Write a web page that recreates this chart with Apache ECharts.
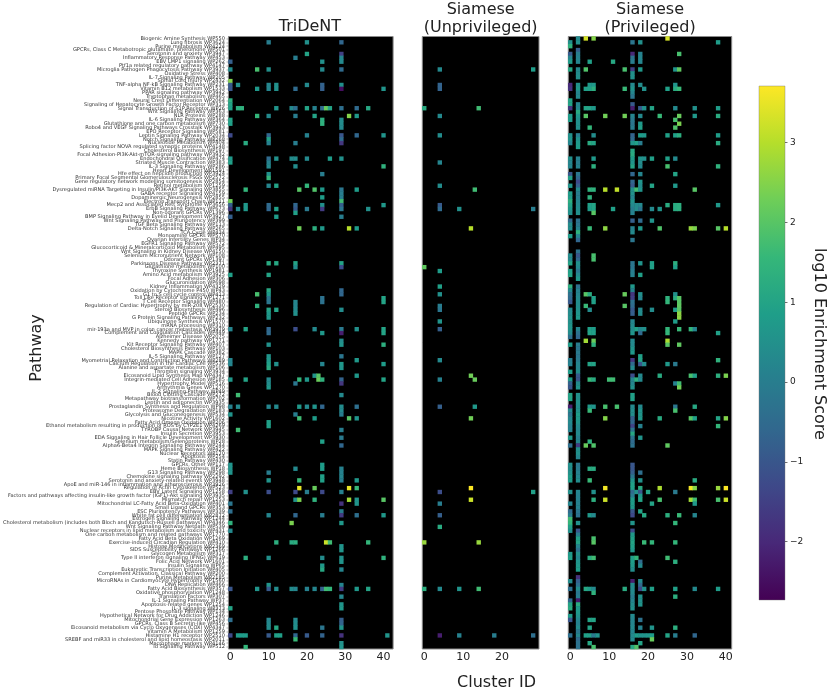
<!DOCTYPE html>
<html><head><meta charset="utf-8">
<style>html,body{margin:0;padding:0;background:#fff}#c{width:831px;height:696px}</style>
<script src="https://cdn.jsdelivr.net/npm/echarts@6/dist/echarts.min.js"></script>
</head><body><div id="c"></div>
<script>
const pathways = [
"Biogenic Amine Synthesis WP550","Lung fibrosis WP3624","Purine metabolism WP4224","GPCRs, Class C Metabotropic glutamate, pheromone WP501","Serotonin and anxiety WP3947","Inflammatory Response Pathway WP453","EBV LMP1 signaling WP262","Ptf1a related regulatory pathway WP4147","Microglia Pathogen Phagocytosis Pathway WP3937","Oxidative Stress WP408",
"IL-7 Signaling Pathway WP205","Spinal Cord Injury WP2432","TNF-alpha NF-kB Signaling Pathway WP231","Vitamin B12 metabolism WP1533","PPAR signaling pathway WP3942","Tryptophan metabolism WP465","Neural Crest Differentiation WP2064","Signaling of Hepatocyte Growth Factor Receptor WP313","Signal Transduction of S1P Receptor WP26","Wnt Signaling Pathway WP363",
"NLR Proteins WP288","IL-6 Signaling Pathway WP364","Glutathione and one carbon metabolism WP730","Robo4 and VEGF Signaling Pathways Crosstalk WP3943","EPO Receptor Signaling WP581","Leptin Signaling Pathway WP2034","Notch Signaling Pathway WP268","Nucleotide Metabolism WP404","Splicing factor NOVA regulated synaptic proteins WP4148","Cholesterol Biosynthesis WP197",
"Focal Adhesion-PI3K-Akt-mTOR-signaling pathway WP3932","Endochondral Ossification WP474","Striated Muscle Contraction WP383","IL-3 Signaling Pathway WP286","Heart Development WP1591","Hfe effect on hepcidin production WP3924","Primary Focal Segmental Glomerulosclerosis FSGS WP2572","Gene regulatory network modelling somitogenesis WP2854","Retinol metabolism WP1259","Dysregulated miRNA Targeting in Insulin/PI3K-AKT Signaling WP3855",
"GABA receptor Signaling WP4159","Dopaminergic Neurogenesis WP2855","Electron Transport Chain WP111","Mecp2 and Associated Rett Syndrome WP3656","ErbB Signaling Pathway WP673","Non-odorant GPCRs WP1396","BMP Signaling Pathway in Eyelid Development WP3927","Wnt Signaling Pathway and Pluripotency WP399","TGF Beta Signaling Pathway WP113","Delta-Notch Signaling Pathway WP265",
"TCA Cycle WP434","Monoamine GPCRs WP570","Ovarian Infertility Genes WP34","EGFR1 Signaling Pathway WP572","Glucocorticoid & Mineralcorticoid Metabolism WP495","Wnt Signaling in Kidney Disease WP4150","Selenium Micronutrient Network WP108","Odorant GPCRs WP1397","Parkinsons Disease Pathway WP2371","Glutathione metabolism WP100",
"Thyroxine Synthesis WP1981","Amino Acid metabolism WP3925","Focal Adhesion WP306","Glucuronidation WP698","Kidney Inflammation WP4329","Oxidation by Cytochrome P450 WP43","G1 to S cell cycle control WP413","Toll Like Receptor signaling WP1271","T Cell Receptor Signaling WP480","Regulation of Cardiac Hypertrophy by miR-208 WP2530",
"Steroid Biosynthesis WP496","Peptide GPCRs WP234","G Protein Signaling Pathways WP232","Ubiquinone Synthesis WP1570","mRNA processing WP310","mir-193a and MVP in colon cancer metastasis WP3979","Complement and Coagulation Cascades WP449","Alzheimer Disease WP2075","Kennedy pathway WP1771","Kit Receptor Signaling Pathway WP407",
"Cholesterol Biosynthesis Pathway WP103","MAPK Cascade WP382","IL-5 Signaling Pathway WP127","Myometrial Relaxation and Contraction Pathways WP289","Calcium Regulation in the Cardiac Cell WP536","Alanine and aspartate metabolism WP106","Thrombin signaling WP3934","Eicosanoid Lipid Synthesis Map WP4347","Integrin-mediated Cell Adhesion WP185","Hypertrophy Model WP516",
"Arrhythmia Genes WP1270","IL-2 Signaling Pathway WP49","Blood Clotting Cascade WP272","Metapathway biotransformation WP702","Leptin and adiponectin WP3935","Prostaglandin Synthesis and Regulation WP98","Proteasome Degradation WP183","Glycolysis and Gluconeogenesis WP534","Nicotine Activity WP1602","Fatty Acid Omega Oxidation WP206",
"Ethanol metabolism resulting in production of ROS by CYP2E1 WP4269","TYROBP Causal Network WP3945","Insulin Secretion WP3953","EDA Signaling in Hair Follicle Development WP3930","Selenium metabolism/Selenoproteins WP28","Alpha6-Beta4 Integrin Signaling Pathway WP244","MAPK Signaling Pathway WP422","Nuclear Receptors WP170","Apoptosis WP254","Statin Pathway WP430",
"GPCRs, Other WP117","Heme Biosynthesis WP18","G13 Signaling Pathway WP298","Chemokine signaling pathway WP2292","Serotonin and anxiety-related events WP3948","ApoE and miR-146 in inflammation and atherosclerosis WP3926","Regulation of Actin Cytoskeleton WP523","EBV Latent Signaling WP1258","Factors and pathways affecting insulin-like growth factor (IGF1)-Akt signaling WP3935","Mismatch repair WP1253",
"Mitochondrial LC-Fatty Acid Beta-Oxidation WP401","Small Ligand GPCRs WP353","ESC Pluripotency Pathways WP339","White fat cell differentiation WP2872","Estrogen Signaling Pathway WP1244","Cholesterol metabolism (includes both Bloch and Kandutsch-Russell pathways) WP4346","Wnt Signaling Pathway Netpath WP539","Nuclear receptors in lipid metabolism and toxicity WP431","One carbon metabolism and related pathways WP1770","Fatty Acid Beta Oxidation WP1269",
"Exercise-induced Circadian Regulation WP410","Histone Modifications WP2369","SIDS Susceptibility Pathways WP1266","Glycogen Metabolism WP317","Type II interferon signaling (IFNG) WP619","Folic Acid Network WP1601","Insulin Signaling WP65","Eukaryotic Transcription Initiation WP405","Complement Activation, Classical Pathway WP200","Purine Metabolism WP2185",
"MicroRNAs in Cardiomyocyte Hypertrophy WP1560","DNA Replication WP466","Fatty Acid Biosynthesis WP357","Oxidative phosphorylation WP1248","Translation Factors WP307","IL-1 Signaling Pathway WP37","Apoptosis-related genes WP1254","IL-3 signaling WP373","Pentose Phosphate Pathway WP134","Hypothetical Network for Drug Addiction WP1246",
"Mitochondrial Gene Expression WP1263","GPCRs, Class B Secretin-like WP456","Eicosanoid metabolism via Cyclo Oxygenases (COX) WP4347","Vitamin A Metabolism WP1259","Histamine H1 receptor WP2510","SREBF and miR33 in cholesterol and lipid homeostasis WP2011","Macrophage markers WP4146","Id Signaling Pathway WP512"
];
// Sparse readings: [row, col, value, col, value, ...]
const trident = [
[1,10,0,20,.5,29,-.6],[4,20,1,29,-1.5],[5,17,0,29,.2],[6,0,-.8,24,.5,29,.3],[8,0,.4,7,1.8,10,.5,24,.3,29,-.5],[11,0,2.5],
[12,0,-.9,2,.5,10,.2,12,.5,20,.3,24,-.7,29,.5],[13,0,-1,7,.7,10,.2,12,.5,17,-.5,24,-.8,29,-2.5,40,.6],[16,0,1.3],[17,0,1],
[18,0,.9,2,1.3,3,1.4,12,.6,16,.3,17,-.4,20,1,22,.1,24,-.5,25,2.2,26,1,29,-.4,33,-.5,36,1.1],[20,7,1.5,10,.3,17,0,22,1,31,2.5,33,.7],
[21,0,1,24,1.3,29,.4],[22,0,.9,24,1.4,29,.4],[23,29,.3],[25,0,-1.3,10,-.6,20,.1,29,-1,33,-.6,40,.6],[26,10,.9,29,-.5],[27,4,1.2,10,.1,17,0,29,-1.7],
[31,0,.7,10,-.5,12,.5,16,.4,17,.4,20,.3,26,.8,29,.5],[32,0,.9,10,.1],[33,10,.3,17,.4,40,1.4],[35,10,.5,24,0],[36,10,1.5],[38,10,.2,12,1,20,1.5],
[39,4,1.5,18,2,22,1.9,24,.7,29,-.2,33,.8],[40,29,0],[41,24,.8,29,0],[42,0,2.3,29,1.7],[43,0,-.8,4,.7,10,-.5,17,-.6,24,.5,29,-.8,40,.7],
[44,0,-1.7,2,.3,4,.7,10,-.6,12,.9,17,-.9,20,-.1,24,-1.6,29,-.2,36,.5],[45,17,.9],[46,0,-.8,12,.8,29,0],[49,18,2.3,22,1.3,24,.7,31,3,33,.8],
[58,10,1.2,12,1.1,17,1,29,1],[59,17,.4,29,-1.2],[61,0,.9,10,1],[65,10,1.1,29,-.6],[66,7,1.8,10,.7,29,-.6],[67,10,-.2,24,-.3,40,1],[68,10,-.2,17,.2,24,-.3,40,1],
[69,7,1.4,17,.2],[70,10,1,12,1,17,.3,29,.4],[71,10,.7,17,.5],[72,10,.7],[75,0,.2,4,1,10,-.6,17,-1.2,22,.3,29,-.1,33,.5,40,1],[76,10,-.5,24,.7,29,-2.2,40,1],
[78,29,.4],[79,10,.5,29,.6,40,1.3],[82,10,.6,29,-.2],[83,0,.2,10,.7,33,.7],[84,0,.2,10,.9,12,.5,24,.2,29,.7,40,.8],[85,10,1.2,29,.6],[87,22,.6,23,2,33,.7],
[88,0,.7,4,1,10,.3,18,1.5,20,.7,23,2.2,24,1.4,29,-.7,40,1],[89,10,.4,17,-.2,29,-1.7],[90,10,.7],[92,2,1.7,29,.3],
[95,0,.1,2,.3,10,.2,12,.3,18,.7,20,.3,22,.6,24,-.6,29,.4,33,-.4],[96,29,.3],[97,0,.6,17,0,29,0],[98,18,1.7,22,.8,31,2,33,.6],[99,10,.9],[100,10,.9],[101,2,1.7,29,0],
[103,29,-.1],[104,24,.9],[105,29,-.6],[110,0,.6,24,.8],[111,0,.6,17,.3,24,.8,29,.1],[112,0,.6,10,0,29,.1],[113,24,.9,29,.2],[114,10,.6,18,1.6,24,.9,29,0,33,.7],
[116,18,3.5,22,2.2,31,3.5,33,1.6],[117,0,-1.5,4,.5,10,-1.2,17,-1.3,20,0,24,-1.3,29,.1],[119,17,.6,18,2.4,22,1.4,31,2.8,33,.6,40,2],[120,0,-.2,29,-1.8,33,.6],
[122,0,-.4,29,0],[123,10,.2,17,-.6,24,0,29,-1.6,33,-.4,40,.7],[125,0,1.4,16,2.4,29,.7],[127,0,.3],[130,12,1.3,16,1.2,17,1.3,25,3.2,26,1.7,36,1.5],[131,29,.6],[132,29,.6],
[134,4,1.3,10,.5,24,.4,29,.5,40,1.4],[135,29,.6],[136,24,.7],[137,24,1.1,29,.2],[141,10,.6,29,.2],
[142,0,-1,7,.6,10,-.9,12,.4,16,.4,17,.2,20,.1,22,.2,24,-.8,25,1.7,26,1.5,29,-1.6,33,.7,36,1],[144,29,.2],[146,29,.6],[147,0,1,29,.7],
[150,0,-.4,10,.2,17,.3,29,-.8],[151,10,.3,17,.4,29,-.7],[152,10,.4,12,1.1,17,.5,24,-.2,29,.6],[154,0,-1.3,2,.8,3,.8,4,.8,10,-.9,12,.9,13,.9,17,-.6,20,-.9,24,-.7,29,-1.8,41,.6],
[155,17,1.6],[156,29,.5],[157,4,1.5,29,.6]
];
const unprivileged = [
[8,4,.3,28,.8],[12,4,-.7],[13,4,-.7],[18,0,1.2,14,1.7],[20,4,.3],[25,4,.4],[32,4,.2],[38,4,.4],[39,13,1.7],[43,4,-.9],[44,4,-.5,9,.5,28,0],[49,12,3],
[59,0,2.1],[60,4,.8],[64,4,.9],[66,4,.5],[69,4,0],[70,4,-.2],[73,4,.6],[75,4,-.8],[83,4,.3],[87,12,2.3],[88,4,.1,13,2.2],[95,4,-.8,13,.7],[98,12,2.3],
[116,12,3.7],[117,4,-1.2,28,.9],[119,12,3.2],[120,4,0],[123,4,-.8],[126,4,1.2],[130,0,2.7,14,2.7],[142,0,1.3,4,.3,9,.6,14,1.7],[154,4,-2.2,9,.1,18,0,28,-.4]
];
const privileged = [
[0,2,.3,4,3.3,6,2.5,25,3.3],[1,0,.5,2,.5,16,-.2,18,.5,38,.8],[2,0,1.4],[3,2,-.8],[4,0,-.9,2,0,16,-2,18,.1,28,1.8],[5,0,.2,2,.1,16,-.3,18,.2],[6,0,.8,2,.2,5,.9,11,1.1,16,0,18,.2],
[8,0,1.1,2,.3,4,1.9,14,1.8,16,-1.5,18,.7,27,.6,28,2.1],[9,2,.4,16,.5],[10,2,.5,16,.5],[12,0,-2,2,.5,5,.7,6,.7,16,.3,18,.4,27,.6],
[13,0,-1.8,2,.7,4,.9,5,.9,6,1.3,14,1.6,16,.6,19,.5,25,.9,27,1.2,28,1.6],[14,2,.2,16,.2],[15,2,.3,16,-.2],[16,0,1],[17,0,1,2,.2,16,-.9],
[18,0,-1.7,2,.3,4,1,5,1,6,.7,16,-2.2,18,-.9,19,.5,21,1,27,.3,32,.5,38,.8],[19,2,1.2],[20,0,.8,2,.7,4,2,9,2.3,14,2.3,16,.2,18,.3,23,1.6,28,2.2,32,.7,38,1.2],
[21,0,.8,2,.5,16,-.1,27,1.8],[22,2,.5,16,-.2,18,.7,28,2.4],[23,2,.5,5,1.5,16,0,18,.9,27,1.9],[25,0,.5,2,0,6,.4,16,-.7,18,.8,19,.7,25,.9,27,.9,28,1.3,38,.8],
[26,0,.6,2,.5,16,-.5],[27,0,.2,2,.7,5,1.2,6,1,16,.6,17,.9,18,0,38,1.2],[28,2,.8],[29,16,1.1],[30,16,1.2],[31,0,.5,2,.1,6,.7,16,.8,18,.6,19,.5,21,.9,25,.9,27,.3],
[32,0,.2,2,0,16,.6,18,.4],[33,0,.2,2,.1,6,1.3,16,1,18,.3,25,1.8,38,1.4],[35,0,-1,2,-.2,16,-.6,18,.2,27,1],[36,0,.9,2,-.6],[37,2,-1.3,16,-.6,18,.6],[38,0,.6,2,-.8,16,-.9,18,.4,21,1,27,.7],
[39,2,.3,5,1.4,6,1.4,9,3,12,3.1,16,.5,17,1.7,18,.6,32,2],[40,0,.8,2,0,16,.5],[41,0,.8,2,0,5,1.4,16,.2],[42,0,1.3,2,.2,16,.5],
[43,0,1,2,.3,5,.9,6,1,16,.3,17,.3,18,.3,25,1.2,27,1.2,28,1.3,38,.7],[44,0,.7,2,.4,5,.8,6,1,11,.9,16,0,17,.4,18,-.2,21,.3,23,.6,27,1.2,28,1.3],[45,0,.5,2,.5,6,2,16,.1],
[47,0,-.5,2,-.3,16,-.8,18,-.5,21,.6],[48,0,.4,2,-.2],[49,0,.4,2,.1,5,1.6,9,2.6,16,.1,18,.7,23,1.9,31,2.7,32,2.4,38,2,40,3],
[50,2,1.4,16,.3],[51,0,.8,2,.2],[52,2,-.6,16,-.2],[55,2,-.3],[56,0,.4,2,-1,6,1.8],[57,0,.3,2,-.6,6,1.8],[58,0,1,2,.5,16,-.2,18,.6,21,.9,27,1.3],[59,2,.3,16,-.2,21,.9,27,.9],
[60,0,.9,2,-.2,16,0],[61,0,1,2,.3,16,.1,18,.9],[62,2,.7],[64,0,1.3,2,-.3,16,.7],[65,0,.3,2,.1,16,.1],[66,0,-.3,2,.2,4,2,5,1.2,14,2.2,16,-1.7,18,.5,27,.5],
[67,0,-.5,2,.3,6,.9,16,-1.5,18,.2,25,1.4,27,1.2,28,2],[68,0,-.9,2,.4,6,.9,16,-.3,25,1.5,28,2],[69,2,.4,4,1.6,14,2,16,-.5,28,2.1],[70,0,.3,2,.5,5,.4,16,-.9,18,.3,21,.4,27,.8,28,2],
[71,0,.4,2,.6,16,-.8,18,.4,28,2.6],[72,0,.5,2,.7,28,2.6],[73,0,.5,16,.2,27,.8],[74,0,.6,16,.3],[75,0,.6,2,.2,5,.9,6,.8,16,.4,17,.9,18,.3,19,.5,25,1.5,28,1.6,31,1.5,32,.2],
[76,0,.4,2,-.3,5,1,6,.9,16,.6,18,-.5,25,1.5,38,.9],[77,0,-.4,2,-.6],[78,4,2.8,6,2.2,16,.3,25,2.9],[79,0,.8,2,0,6,1.4,16,.3,25,2,28,2.1],[80,2,-.2,16,.6],[81,2,-.1,16,.7],[82,2,-.2,18,.9],
[83,0,0,2,-.1,16,-1.7,18,1,38,1.4],[84,0,.1,2,.2,5,1,6,1,16,-.5,18,-1,19,.4,25,.7,27,-.1],[85,2,.2,16,.3],[86,0,.8,2,.4],[87,2,-.9,16,-1.2,18,.3,23,1.2,31,1.8,32,.9,38,1.3,40,2.4],
[88,0,.8,2,-1,5,1.6,6,1.2,10,1.7,11,1.7,16,.2,17,1.3,18,.3],[89,0,-.7,2,.3,16,.2,27,.1,28,1.7],[90,0,-1,2,.6,16,.5,28,2.3],[92,0,1,2,.5,16,.9],[93,0,1,2,.5,16,.9],[94,2,.5],
[95,0,-2.2,2,.4,5,.7,6,.6,9,1.8,12,1.8,16,.3,18,.3,27,-.2,32,1.1],[96,0,.3,2,.5,5,1.6,16,.4,18,.6,27,1.8],[97,0,-.2,2,.8,16,.4,18,.6],[98,0,.2,2,.7,9,2.5,16,-.8,18,.7,23,1.2,31,2,32,.9,38,1,40,2.5],
[99,0,.3,2,.6,16,-.6],[100,0,.1,2,.3,16,-1.4,18,.1,38,1.5],[101,0,.1,2,.2,16,-.2],[102,2,.3,16,1.1],[103,0,.7,2,0,16,-.2,18,.6],[104,2,.2,5,1.4,16,-.5],[105,0,-.4,2,-1.6,4,2.2,6,1.9,16,-.3,25,2.1],
[106,2,.4],[107,2,.5],[108,2,.2],[110,0,.5,2,-.2,16,-1],[111,0,.4,2,-.1,5,1.2,6,1.2,16,-1],[112,0,.5,2,.1,16,-.8,18,-.4],[113,0,.8,2,.2,16,-.2],[114,0,.8,2,.4,5,1.6,16,.6,18,.5,32,1.2],[115,16,.9],
[116,9,3.6,16,.9,18,1.2,23,2.9,31,3.6,32,2.5,38,2.7,40,3.7],[117,0,.5,2,.2,6,.5,16,-.5,17,.5,18,-1,20,1,27,-.1],[118,2,.1,16,-.1,18,.7],[119,2,.1,6,1.3,9,3.2,16,.8,18,1,23,1.8,31,2.8,32,1.7,38,1.8,40,3.2],
[120,0,.2,2,.1,16,.8,21,1,32,.7],[121,2,.1,16,.7],[122,0,-.5,2,-.2,16,-1,18,1],[123,0,0,2,-.3,5,.7,6,.3,16,-1.3,19,1.1,25,1.3,28,1.6,32,.2],[124,0,1.7],[125,0,1.5,2,.5,16,.6,27,1.5],[126,0,.9],
[127,0,.5,2,-1,16,-1.2],[128,2,0,16,.7],[129,2,.9,6,1.8,16,.9],[130,2,1,6,2,16,1,19,1.6,21,1.5,27,1.5],[131,2,.2,16,.9],[132,2,-.3,16,.7],[133,0,.7,2,.5],[134,0,.9,2,.2,5,1.2,6,1.7,16,.9,17,1.5,25,1.7],
[135,2,.6,16,.8,18,-.5,27,1.3],[136,2,.7,16,.7,18,.3],[137,2,.8,16,.4],[139,2,-1.8],[140,0,.4,2,-.8,16,-2.2,18,.3],[141,2,-.4,16,.3,18,-.5],
[142,0,-.4,2,.4,4,1.1,5,.8,6,.3,14,1.2,16,.3,18,-1.3,19,.5,21,.9,27,.9,32,.3,38,.8],[143,2,-.2,6,1.4,16,.3],[144,2,0,16,0,18,.5,27,1.3],[145,0,-.6,2,-2.3,16,.2,18,.5],[146,0,1,2,1.2,16,.4,18,.6],[147,0,1.2,2,.7,16,.5],
[148,2,.7],[149,0,.8,2,.5,16,.3],[150,0,-1,2,.2,5,1,6,1,16,.2,18,-.3],[151,2,.1,16,.2],[152,2,.4,5,1,16,.3,18,.1,21,.6,27,1.3],[153,2,-.2,16,.2],
[154,0,-.4,2,.2,4,.9,5,.9,6,-.1,7,.6,16,.3,17,.8,18,.6,19,.6,20,.7,21,.8,25,1,27,0,32,-.6],[155,2,-.5,16,.3,21,2.2],[156,2,-.3,5,1.1,18,1],[157,2,-.3,6,1.8,16,1.1,17,1.9]
];
const panelTitles = ["TriDeNT","Siamese\n(Unprivileged)","Siamese\n(Privileged)"];
const panelColumns = [43,30,42];
const colorbarTicks = [-2,-1,0,1,2,3];
const scoreMin = -2.73, scoreMax = 3.71;
const viridis = ["#440154","#482878","#3e4989","#31688e","#26828e","#1f9e89","#35b779","#6ece58","#b5de2b","#fde725"];

const F = '"DejaVu Sans"';
function cells(list){const out=[];list.forEach(r=>{for(let i=1;i<r.length;i+=2)out.push([r[i],r[0],r[i+1]]);});return out;}
const lefts=[226.7,422.3,568.3], widths=[166.4,116.7,163.4];
const sets=[trident,unprivileged,privileged];
const grids=lefts.map((l,i)=>({left:l,width:widths[i],top:36.5,height:612.5,show:true,backgroundColor:'#000',borderColor:'#8a8a8a',borderWidth:1,containLabel:false}));
grids.push({left:785,width:1,top:86,height:514,show:false});
const tenth=(k)=>k%10===0;
const xAxes=panelColumns.map((n,i)=>({type:'category',gridIndex:i,data:Array.from({length:n},(_,k)=>String(k)),
  axisTick:{alignWithLabel:true,length:2.5,lineStyle:{color:'#333',width:.7},interval:tenth},
  axisLine:{show:false},splitLine:{show:false},
  axisLabel:{interval:tenth,fontFamily:F,fontSize:11,color:'#222',margin:3,hideOverlap:false,alignMinLabel:'center',alignMaxLabel:'center'}}));
xAxes.push({type:'value',gridIndex:3,show:false,min:0,max:1});
const yAxes=panelColumns.map((n,i)=>({type:'category',gridIndex:i,inverse:true,data:pathways,
  axisLine:{show:false},splitLine:{show:false},
  axisTick:{show:i===0,alignWithLabel:true,length:2,interval:0,lineStyle:{color:'#444',width:.4}},
  axisLabel:{show:i===0,interval:0,fontFamily:F,fontSize:5.05,color:'#333',margin:3.5,hideOverlap:false}}));
yAxes.push({type:'value',gridIndex:3,position:'right',min:scoreMin,max:scoreMax,
  axisLine:{show:false},splitLine:{show:false},
  axisTick:{show:true,inside:false,length:2.5,customValues:colorbarTicks,lineStyle:{color:'#333',width:.7}},
  axisLabel:{show:true,customValues:colorbarTicks,inside:false,fontFamily:F,fontSize:9,color:'#222',margin:4,formatter:v=>String(v).replace('-','\u2212')}});
const series=sets.map((s,i)=>({type:'heatmap',xAxisIndex:i,yAxisIndex:i,data:cells(s),progressive:0,animation:false,itemStyle:{borderWidth:0},emphasis:{disabled:true}}));

const chart=echarts.init(document.getElementById('c'),null,{renderer:'canvas'});
const mid=(i)=>lefts[i]+widths[i]/2;
const barStops=viridis.map((c,i)=>({offset:1-i/(viridis.length-1),color:c}));
chart.setOption({
  animation:false,backgroundColor:'#fff',textStyle:{fontFamily:F},
  grid:grids,xAxis:xAxes,yAxis:yAxes,series,
  visualMap:{type:'continuous',min:scoreMin,max:scoreMax,seriesIndex:[0,1,2],calculable:false,show:false,inRange:{color:viridis}},
  graphic:[
    {type:'rect',shape:{x:759,y:86,width:26,height:514},style:{fill:new echarts.graphic.LinearGradient(0,0,0,1,barStops),stroke:'#777',lineWidth:.4}},
    {type:'text',x:mid(0),y:27,style:{text:panelTitles[0],font:'16px '+F,fill:'#222',textAlign:'center',textVerticalAlign:'middle'}},
    {type:'text',x:mid(1),y:19,style:{text:panelTitles[1],font:'16px '+F,fill:'#222',textAlign:'center',textVerticalAlign:'middle',lineHeight:18}},
    {type:'text',x:mid(2),y:19,style:{text:panelTitles[2],font:'16px '+F,fill:'#222',textAlign:'center',textVerticalAlign:'middle',lineHeight:18}},
    {type:'text',x:496.5,y:683,style:{text:'Cluster ID',font:'16px '+F,fill:'#222',textAlign:'center',textVerticalAlign:'middle'}},
    {type:'text',x:37,y:348,rotation:Math.PI/2,style:{text:'Pathway',font:'16px '+F,fill:'#222',textAlign:'center',textVerticalAlign:'middle'}},
    {type:'text',x:819,y:344,rotation:-Math.PI/2,style:{text:'log10 Enrichment Score',font:'16px '+F,fill:'#222',textAlign:'center',textVerticalAlign:'middle'}}
  ]
});
</script></body></html>
